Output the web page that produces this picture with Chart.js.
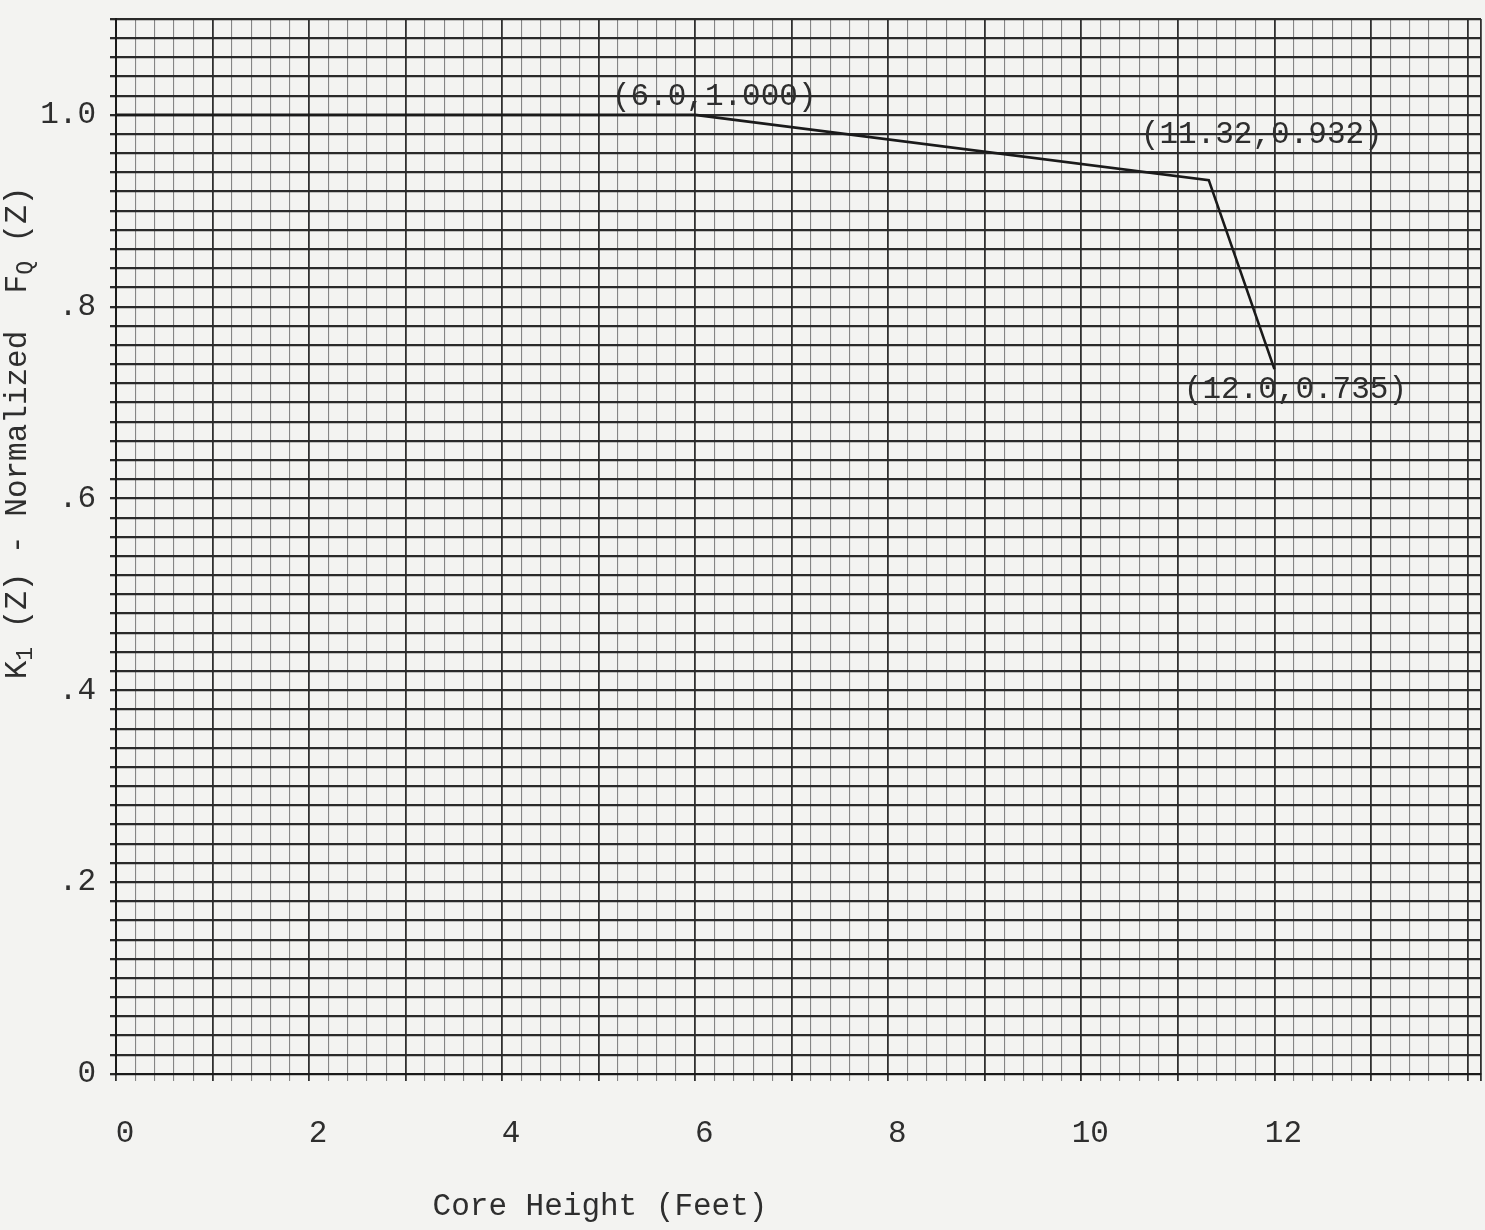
<!DOCTYPE html>
<html>
<head>
<meta charset="utf-8">
<script src="https://cdn.jsdelivr.net/npm/chart.js@4.4.1/dist/chart.umd.min.js"></script>
<style>
  html, body { margin: 0; padding: 0; background: #f3f3f1; }
  #wrap { width: 1485px; height: 1230px; position: relative; }
</style>
</head>
<body>
<div id="wrap"><canvas id="kz"></canvas></div>
<script>
// data
const heights = [0, 6.0, 11.32, 12.0];
const kValues = [1.0, 1.0, 0.932, 0.735];
const pointLabels = ['', '(6.0,1.000)', '(11.32,0.932)', '(12.0,0.735)'];

// axis labels
const xLabelValues = [0, 2, 4, 6, 8, 10, 12];
const xLabels = ['0', '2', '4', '6', '8', '10', '12'];
const yLabelValues = [0, 0.2, 0.4, 0.6, 0.8, 1.0];
const yLabels = ['0', '.2', '.4', '.6', '.8', '1.0'];

const xMax = 14.14;
const yMax = 1.1;
const mono = "'Liberation Mono', 'DejaVu Sans Mono', monospace";
const ink = '#2e2e2e';

// graph paper lines: every 0.2 ft and every 0.02
const xGrid = [];
for (let i = 0; i <= 70; i++) xGrid.push(Math.round(i * 2) / 10);
xGrid.push(xMax);
const yGrid = [];
for (let i = 0; i <= 55; i++) yGrid.push(Math.round(i * 2) / 100);

const labelFor = (vals, labels) => v => {
    const i = vals.findIndex(t => Math.abs(t - v) < 1e-6);
    return i < 0 ? '' : labels[i];
};
const isMajor = v => Math.abs(v - Math.round(v)) < 1e-6 || v === xMax;

const paperText = {
    id: 'paperText',
    afterDatasetsDraw(chart) {
        const { ctx, scales } = chart;
        ctx.save();
        ctx.fillStyle = ink;
        ctx.textAlign = 'center';
        ctx.textBaseline = 'middle';
        ctx.font = '31px ' + mono;

        // point callouts
        const offsets = [null, [19, -18], [53, -45], [21, 21]];
        pointLabels.forEach((txt, i) => {
            if (!txt) return;
            const px = scales.x.getPixelForValue(heights[i]);
            const py = scales.y.getPixelForValue(kValues[i]);
            ctx.fillText(txt, px + offsets[i][0], py + offsets[i][1]);
        });

        // x title
        ctx.fillText('Core Height (Feet)', 600, 1207);

        // y title with subscripts
        const parts = [
            ['K', false], ['1', true], [' (Z) - Normalized  F', false], ['Q', true], [' (Z)', false]
        ];
        const big = '31px ' + mono, small = '23px ' + mono;
        let total = 0;
        parts.forEach(([t, sub]) => { ctx.font = sub ? small : big; total += ctx.measureText(t).width; });
        ctx.translate(18, 433);
        ctx.rotate(-Math.PI / 2);
        ctx.textAlign = 'left';
        let x = -total / 2;
        parts.forEach(([t, sub]) => {
            ctx.font = sub ? small : big;
            ctx.fillText(t, x, sub ? 8 : 0);
            x += ctx.measureText(t).width;
        });
        ctx.restore();
    }
};

new Chart(document.getElementById('kz'), {
    type: 'line',
    data: {
        datasets: [{
            data: heights.map((h, i) => ({ x: h, y: kValues[i] })),
            borderColor: '#1a1a1a',
            borderWidth: 2.6,
            pointRadius: 0,
            tension: 0,
            fill: false
        }]
    },
    options: {
        responsive: true,
        maintainAspectRatio: false,
        animation: false,
        layout: { padding: { top: 19, right: 4, left: 0, bottom: 0 } },
        plugins: { legend: { display: false }, tooltip: { enabled: false } },
        scales: {
            x: {
                type: 'linear',
                min: 0,
                max: xMax,
                afterBuildTicks: s => { s.ticks = xGrid.map(v => ({ value: v })); },
                afterFit: s => { s.height = 156; s.paddingLeft = 0; s.paddingRight = 0; },
                border: { color: '#1a1a1a', width: 2 },
                grid: {
                    tickLength: 7,
                    color: c => isMajor(c.tick ? c.tick.value : 0) ? '#303030' : '#858585',
                    lineWidth: c => isMajor(c.tick ? c.tick.value : 0) ? 1.8 : 1.1
                },
                ticks: {
                    autoSkip: false,
                    maxRotation: 0,
                    padding: 34,
                    labelOffset: 9,
                    color: ink,
                    font: { family: mono, size: 31 },
                    callback: labelFor(xLabelValues, xLabels)
                }
            },
            y: {
                type: 'linear',
                min: 0,
                max: yMax,
                afterBuildTicks: s => { s.ticks = yGrid.map(v => ({ value: v })); },
                afterFit: s => { s.width = 116; s.paddingTop = 0; s.paddingBottom = 0; },
                border: { color: '#1a1a1a', width: 2 },
                grid: {
                    tickLength: 6,
                    color: '#2a2a2a',
                    lineWidth: 2.3
                },
                ticks: {
                    autoSkip: false,
                    padding: 14,
                    color: ink,
                    font: { family: mono, size: 31 },
                    callback: labelFor(yLabelValues, yLabels)
                }
            }
        }
    },
    plugins: [paperText]
});
</script>
</body>
</html>
